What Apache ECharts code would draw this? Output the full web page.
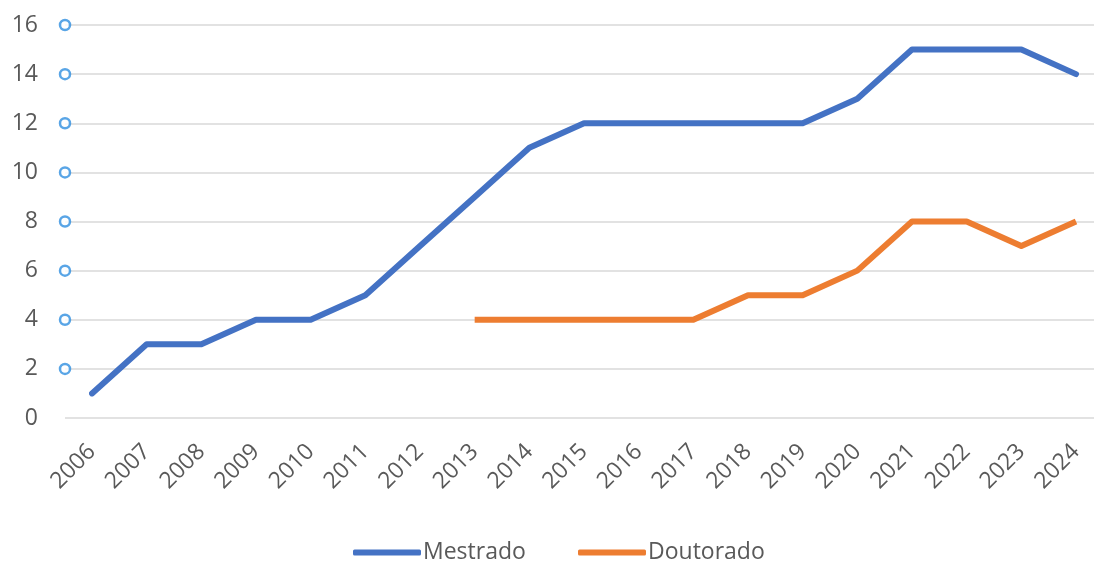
<!DOCTYPE html>
<html>
<head>
<meta charset="utf-8">
<script src="https://cdn.jsdelivr.net/npm/echarts@6/dist/echarts.min.js"></script>
<style>html,body{margin:0;padding:0;background:#fff}#c{width:1094px;height:562px}</style>
</head>
<body>
<div id="c"></div>
<script>
var categories = ['2006','2007','2008','2009','2010','2011','2012','2013','2014','2015','2016','2017','2018','2019','2020','2021','2022','2023','2024'];
var mestrado = [1,3,3,4,4,5,7,9,11,12,12,12,12,12,13,15,15,15,14];
var doutorado = [null,null,null,null,null,null,null,4,4,4,4,4,5,5,6,8,8,7,8];
var edgeMarkers = [2,4,6,8,10,12,14,16];

var chart = echarts.init(document.getElementById('c'), null, {renderer:'canvas'});
var font = '"Open Sans", "DejaVu Sans", sans-serif';
var legendBase = {
  orient:'horizontal', top:536, itemWidth:68, itemHeight:6, icon:'roundRect',
  textStyle:{fontSize:23, color:'#595959', fontFamily:font, padding:[0,0,0,-3]}
};
chart.setOption({
  animation:false,
  backgroundColor:'#fff',
  grid:[
    {left:65, right:0, top:25, height:393, containLabel:false},
    {left:92, width:984, top:25, height:393, containLabel:false}
  ],
  xAxis:[{
    gridIndex:0, type:'value', min:0, max:1, show:false
  },{
    gridIndex:1, type:'category', data:categories, boundaryGap:false,
    axisLine:{show:false}, axisTick:{show:false}, splitLine:{show:false},
    axisLabel:{rotate:45, margin:30, fontSize:23, color:'#595959', fontFamily:font, interval:0}
  }],
  yAxis:[{
    gridIndex:0, type:'value', min:0, max:16, interval:2,
    axisLine:{show:false}, axisTick:{show:false},
    splitLine:{lineStyle:{color:'#d9d9d9', width:1.5}},
    axisLabel:{margin:27, fontSize:23, color:'#595959', fontFamily:font}
  },{
    gridIndex:1, type:'value', min:0, max:16, interval:2, show:false,
    splitLine:{show:false}
  }],
  legend:[
    Object.assign({left:348, data:['Mestrado']}, legendBase),
    Object.assign({left:573, data:['Doutorado']}, legendBase)
  ],
  series:[{
    name:'Mestrado', type:'line', xAxisIndex:1, yAxisIndex:1, data:mestrado, showSymbol:false, symbol:'none',
    lineStyle:{width:6, color:'#4472C4', cap:'round', join:'round'}, itemStyle:{color:'#4472C4'}
  },{
    name:'Doutorado', type:'line', xAxisIndex:1, yAxisIndex:1, data:doutorado, showSymbol:false, symbol:'none',
    lineStyle:{width:6, color:'#ED7D31', cap:'butt', join:'round'}, itemStyle:{color:'#ED7D31'}
  },{
    name:'edge', type:'scatter', xAxisIndex:0, yAxisIndex:0, data:edgeMarkers.map(function(v){return [0,v];}),
    symbol:'circle', symbolSize:10, silent:true,
    itemStyle:{color:'#ffffff', borderColor:'#2f8fe0', borderWidth:2.5}
  }]
});
</script>
</body>
</html>
